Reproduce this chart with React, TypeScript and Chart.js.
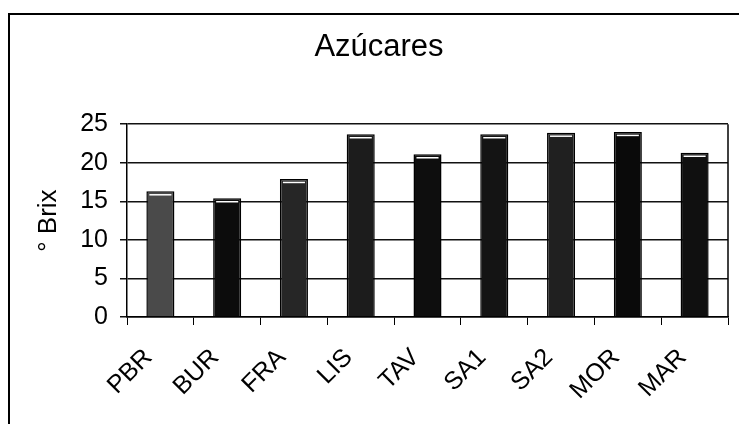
import React, { useEffect, useRef } from "react";
import { Chart, registerables } from "chart.js";

Chart.register(...registerables);

const categories = ["PBR", "BUR", "FRA", "LIS", "TAV", "SA1", "SA2", "MOR", "MAR"];
const brixValues = [16.3, 15.4, 17.9, 23.7, 21.1, 23.7, 23.9, 24.0, 21.3];
const barColors = ["#4a4a4a", "#0c0c0c", "#262626", "#1c1c1c", "#0e0e0e", "#141414", "#202020", "#0a0a0a", "#101010"];
const chartTitle = "Azúcares";
const yAxisTitle = "° Brix";

const FONT = "'Liberation Sans', Arial, sans-serif";

const framePlugin = {
  id: "frame",
  beforeDraw(chart: any) {
    const ctx = chart.ctx;
    ctx.save();
    ctx.strokeStyle = "#000";
    ctx.lineWidth = 2;
    ctx.beginPath();
    ctx.moveTo(9, chart.height);
    ctx.lineTo(9, 14);
    ctx.lineTo(chart.width, 14);
    ctx.stroke();
    ctx.restore();
  },
  beforeDatasetsDraw(chart: any) {
    const { ctx, chartArea } = chart;
    ctx.save();
    ctx.strokeStyle = "#000";
    ctx.lineWidth = 1.5;
    ctx.beginPath();
    ctx.moveTo(chartArea.right, chartArea.top);
    ctx.lineTo(chartArea.right, chartArea.bottom);
    ctx.stroke();
    ctx.restore();
  },
  afterDatasetsDraw(chart: any) {
    const { ctx } = chart;
    const meta = chart.getDatasetMeta(0);
    ctx.save();
    ctx.strokeStyle = "#fff";
    ctx.lineWidth = 1.5;
    meta.data.forEach((bar: any) => {
      const half = bar.width / 2;
      ctx.beginPath();
      ctx.moveTo(bar.x - half + 3, bar.y + 3.5);
      ctx.lineTo(bar.x + half - 3, bar.y + 3.5);
      ctx.stroke();
    });
    ctx.restore();
  },
};

export default function App() {
  const ref = useRef<HTMLCanvasElement | null>(null);
  useEffect(() => {
    if (!ref.current) return;
    const chart = new Chart(ref.current, {
      type: "bar",
      data: {
        labels: categories,
        datasets: [
          {
            data: brixValues,
            backgroundColor: barColors,
            borderColor: "#000",
            borderWidth: 1.5,
            barPercentage: 0.42,
            categoryPercentage: 1,
          },
        ],
      },
      options: {
        animation: false,
        responsive: false,
        maintainAspectRatio: false,
        layout: { padding: { left: 30, right: 11, top: 0, bottom: 0 } },
        plugins: {
          legend: { display: false },
          tooltip: { enabled: false },
          title: {
            display: true,
            text: chartTitle,
            color: "#000",
            font: { family: FONT, size: 31, weight: "normal" },
            padding: { top: 29, bottom: 58 },
          },
        },
        scales: {
          x: {
            afterFit: (s: any) => {
              s.height = 107;
            },
            grid: {
              display: true,
              drawOnChartArea: false,
              drawTicks: true,
              tickLength: 8,
              color: "#000",
              lineWidth: 1,
              offset: true,
            },
            border: { display: true, color: "#000", width: 1.5 },
            ticks: {
              color: "#000",
              font: { family: FONT, size: 25 },
              maxRotation: 45,
              minRotation: 45,
              autoSkip: false,
              padding: 18,
              labelOffset: -12,
            },
          },
          y: {
            min: 0,
            max: 25,
            afterFit: (s: any) => {
              s.width = 97;
            },
            grid: {
              color: "#111",
              lineWidth: 1.5,
              tickLength: 7,
              drawTicks: true,
            },
            border: { display: true, color: "#000", width: 1.5 },
            ticks: {
              stepSize: 5,
              color: "#000",
              font: { family: FONT, size: 25 },
              padding: 12,
            },
            title: {
              display: true,
              text: yAxisTitle,
              color: "#000",
              font: { family: FONT, size: 26 },
              padding: { top: 3, bottom: 0 },
            },
          },
        },
      },
      plugins: [framePlugin],
    });
    return () => chart.destroy();
  }, []);
  return (
    <div style={{ position: "fixed", left: 0, top: 0, width: 739, height: 424, background: "#fff" }}>
      <canvas ref={ref} width={739} height={424} style={{ display: "block" }} />
    </div>
  );
}
